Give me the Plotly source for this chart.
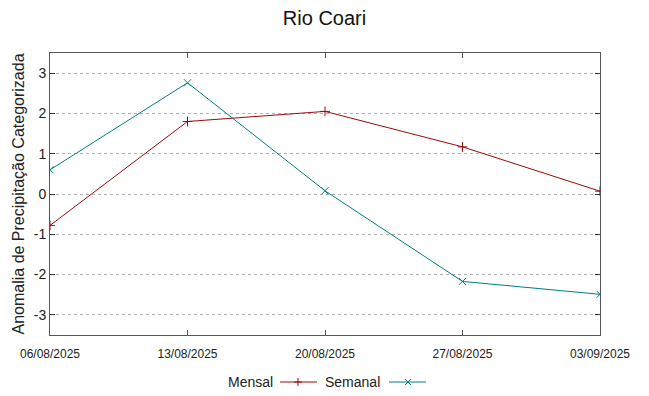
import plotly.graph_objects as go

dates = ["2025-08-06", "2025-08-13", "2025-08-20", "2025-08-27", "2025-09-03"]
tick_labels = ["06/08/2025", "13/08/2025", "20/08/2025", "27/08/2025", "03/09/2025"]
y_ticks = [-3, -2, -1, 0, 1, 2, 3]
y_tick_labels = ["-3", "-2", "-1", "0", "1", "2", "3"]
mensal = [-0.78, 1.80, 2.05, 1.17, 0.07]
semanal = [0.60, 2.76, 0.08, -2.17, -2.49]

c_mensal = "#9b0a0a"
c_semanal = "#00807f"

fig = go.Figure()
fig.add_trace(go.Scatter(x=dates, y=mensal, mode="lines+markers", name="Mensal",
                         line=dict(color=c_mensal, width=1),
                         marker=dict(symbol="cross-thin", size=7, line=dict(color=c_mensal, width=1))))
fig.add_trace(go.Scatter(x=dates, y=semanal, mode="lines+markers", name="Semanal",
                         line=dict(color=c_semanal, width=1),
                         marker=dict(symbol="x-thin", size=7, line=dict(color=c_semanal, width=1))))

W, H = 649, 396
ml, mr, mt, mb = 50, 49, 53, 61
pw, ph = W - ml - mr, H - mt - mb

def px(x):
    return (x - ml) / pw

def py(y):
    return (H - mb - y) / ph

fig.update_layout(
    width=W, height=H,
    margin=dict(l=ml, r=mr, t=mt, b=mb, autoexpand=False),
    paper_bgcolor="white", plot_bgcolor="white",
    font=dict(family="Liberation Sans, Arial, sans-serif", color="#222"),
    title=dict(text="Rio Coari", x=0.5, xanchor="center", y=1 - 18 / H, yanchor="middle",
               font=dict(size=20, color="#111")),
    showlegend=False,
)
fig.update_xaxes(
    type="date", range=[dates[0], dates[-1]],
    tickvals=dates, ticktext=tick_labels,
    tickfont=dict(size=12), ticks="inside", ticklen=5, tickcolor="#555",
    ticklabelstandoff=8,
    showline=True, linecolor="#555", linewidth=1, mirror="ticks",
    showgrid=False, zeroline=False,
)
fig.update_yaxes(
    range=[-3.5, 3.5], tickvals=y_ticks, ticktext=y_tick_labels,
    tickfont=dict(size=14), ticks="inside", ticklen=5, tickcolor="#333",
    showline=True, linecolor="#555", linewidth=1, mirror="ticks",
    showgrid=True, gridcolor="#b0b0b0", griddash="dot", gridwidth=1, zeroline=False,
    title=dict(text="Anomalia de Precipitação Categorizada", font=dict(size=16), standoff=5),
)

# manual legend (text before sample, as in the reference)
ly = py(382)
fig.add_annotation(text="Mensal", xref="paper", yref="paper", x=px(275), y=ly,
                   xanchor="right", yanchor="middle", showarrow=False, font=dict(size=14))
fig.add_annotation(text="Semanal", xref="paper", yref="paper", x=px(382), y=ly,
                   xanchor="right", yanchor="middle", showarrow=False, font=dict(size=14))
fig.add_shape(type="line", xref="paper", yref="paper", x0=px(280), x1=px(317), y0=ly, y1=ly,
              line=dict(color=c_mensal, width=1))
fig.add_shape(type="line", xref="paper", yref="paper", x0=px(389), x1=px(426), y0=ly, y1=ly,
              line=dict(color=c_semanal, width=1))
d = 4
mx = 298
fig.add_shape(type="line", xref="paper", yref="paper", x0=px(mx - d), x1=px(mx + d), y0=ly, y1=ly,
              line=dict(color=c_mensal, width=1))
fig.add_shape(type="line", xref="paper", yref="paper", x0=px(mx), x1=px(mx), y0=py(382 - d), y1=py(382 + d),
              line=dict(color=c_mensal, width=1))
sx = 408
d2 = 3
fig.add_shape(type="line", xref="paper", yref="paper", x0=px(sx - d2), x1=px(sx + d2),
              y0=py(382 - d2), y1=py(382 + d2), line=dict(color=c_semanal, width=1))
fig.add_shape(type="line", xref="paper", yref="paper", x0=px(sx - d2), x1=px(sx + d2),
              y0=py(382 + d2), y1=py(382 - d2), line=dict(color=c_semanal, width=1))

fig.write_html("out.html", config={"displayModeBar": False},
               post_script="document.body.style.margin='0';document.body.style.overflow='hidden';")
